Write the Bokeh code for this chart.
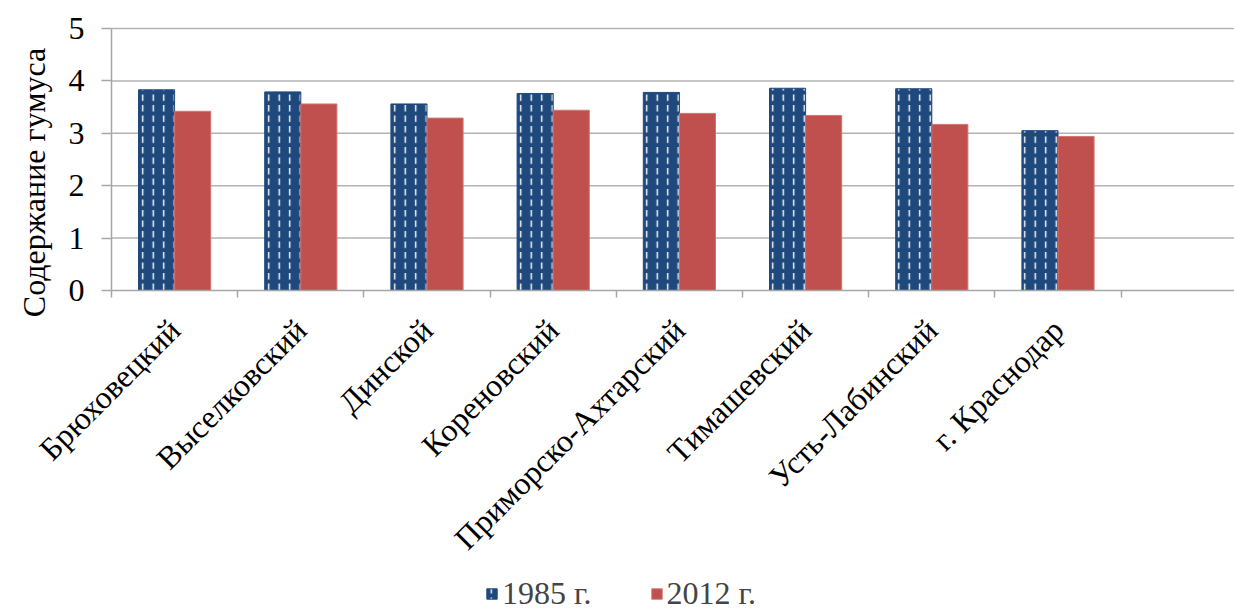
import math
from bokeh.plotting import figure
from bokeh.models import Range1d, FixedTicker, Legend, LegendItem, ColumnDataSource, LinearAxis
from bokeh.transform import dodge
from bokeh.embed import file_html
from bokeh.resources import INLINE

categories = ["Брюховецкий", "Выселковский", "Динской", "Кореновский",
              "Приморско-Ахтарский", "Тимашевский", "Усть-Лабинский", "г. Краснодар"]
v1985 = [3.83, 3.79, 3.56, 3.76, 3.78, 3.86, 3.85, 3.05]
v2012 = [3.42, 3.56, 3.29, 3.44, 3.38, 3.34, 3.17, 2.94]
y_ticks = [0, 1, 2, 3, 4, 5]
series_names = ["1985 г.", "2012 г."]

FONT = "Liberation Serif"
FS = "32px"
GRAY = "#a6a6a6"
W, H = 1234, 612
TOP, LEFT = 28, 111              # pixel position of the value band's top-left corner
PLOT_H = 262                     # pixel height of the 0..5 value band
XPX = 126.2                      # pixels per category slot
YMAX = y_ticks[-1]
py = YMAX / PLOT_H               # data units per pixel (y)

n = len(categories)
XEND = (W - LEFT) / XPX
centers = [i + 0.5 for i in range(n)]
bounds_x = list(range(n + 1))
src = ColumnDataSource(dict(x=centers, a=v1985, b=v2012))
gsrc = ColumnDataSource(dict(y=y_ticks[1:]))

# the frame covers the whole canvas so that nothing is clipped; axes sit at fixed data positions
p = figure(width=W, height=H, output_backend="svg", toolbar_location=None,
           x_range=Range1d(-LEFT / XPX, XEND),
           y_range=Range1d(YMAX - (H - TOP) * py, YMAX + TOP * py),
           x_axis_location=None, y_axis_location=None,
           min_border_left=0, min_border_right=0, min_border_top=0, min_border_bottom=0)
p.outline_line_color = None
p.xgrid.visible = False
p.ygrid.visible = False

# horizontal gridlines from the axis to the right edge, and the value axis line
p.segment(x0=0, y0="y", x1=XEND, y1="y", source=gsrc, line_color="#b3b3b3", line_width=1.5)
p.segment(x0=0, y0=0, x1=0, y1=YMAX, line_color=GRAY, line_width=1.5)

bw = 0.286
r1 = p.vbar(x=dodge("x", -bw / 2, range=p.x_range), top="a", width=bw, source=src,
            fill_color="#1F497D", line_color="#1F497D",
            hatch_pattern="vertical_dash", hatch_color="white", hatch_scale=10.5, hatch_weight=1.4)
r2 = p.vbar(x=dodge("x", bw / 2, range=p.x_range), top="b", width=bw, source=src,
            fill_color="#C0504D", line_color="#D07572", line_width=1)

# x axis at y = 0: names at slot centres, tick marks at slot boundaries
xax = LinearAxis(fixed_location=0, bounds=(0, XEND))
xax.ticker = FixedTicker(ticks=centers, minor_ticks=bounds_x)
xax.major_label_overrides = {c: name for c, name in zip(centers, categories)}
xax.major_label_orientation = math.pi / 4
xax.major_tick_out = 0
xax.major_tick_in = 0
xax.minor_tick_out = 7
xax.minor_tick_in = 0
xax.minor_tick_line_color = GRAY
xax.minor_tick_line_width = 1.5
xax.axis_line_color = GRAY
xax.axis_line_width = 1.5
xax.major_label_text_font = FONT
xax.major_label_text_font_size = FS
xax.major_label_text_color = "black"
xax.major_label_standoff = 27
p.add_layout(xax, "below")

# y axis at x = 0 (its bounds reach below 0 only to centre the title like the reference;
# the axis line itself is the segment drawn above)
yax = LinearAxis(fixed_location=0, bounds=(-0.88, YMAX))
yax.ticker = FixedTicker(ticks=y_ticks)
yax.minor_tick_line_color = None
yax.major_tick_out = 10
yax.major_tick_in = 0
yax.major_tick_line_color = GRAY
yax.major_tick_line_width = 1.5
yax.axis_line_color = None
yax.major_label_text_font = FONT
yax.major_label_text_font_size = FS
yax.major_label_text_color = "black"
yax.major_label_standoff = 17
yax.axis_label = "Содержание гумуса"
yax.axis_label_text_font = FONT
yax.axis_label_text_font_size = FS
yax.axis_label_text_font_style = "normal"
yax.axis_label_text_color = "black"
yax.axis_label_standoff = 14
p.add_layout(yax, "left")

legend = Legend(items=[LegendItem(label=series_names[0], renderers=[r1]),
                       LegendItem(label=series_names[1], renderers=[r2])],
                orientation="horizontal", location=(485, 0),
                label_text_font=FONT, label_text_font_size=FS, label_standoff=4,
                glyph_width=13, glyph_height=13, spacing=58, padding=0, margin=0,
                border_line_color=None, background_fill_alpha=0)
p.add_layout(legend, "center")

open("out.html", "w").write(file_html(p, INLINE))
